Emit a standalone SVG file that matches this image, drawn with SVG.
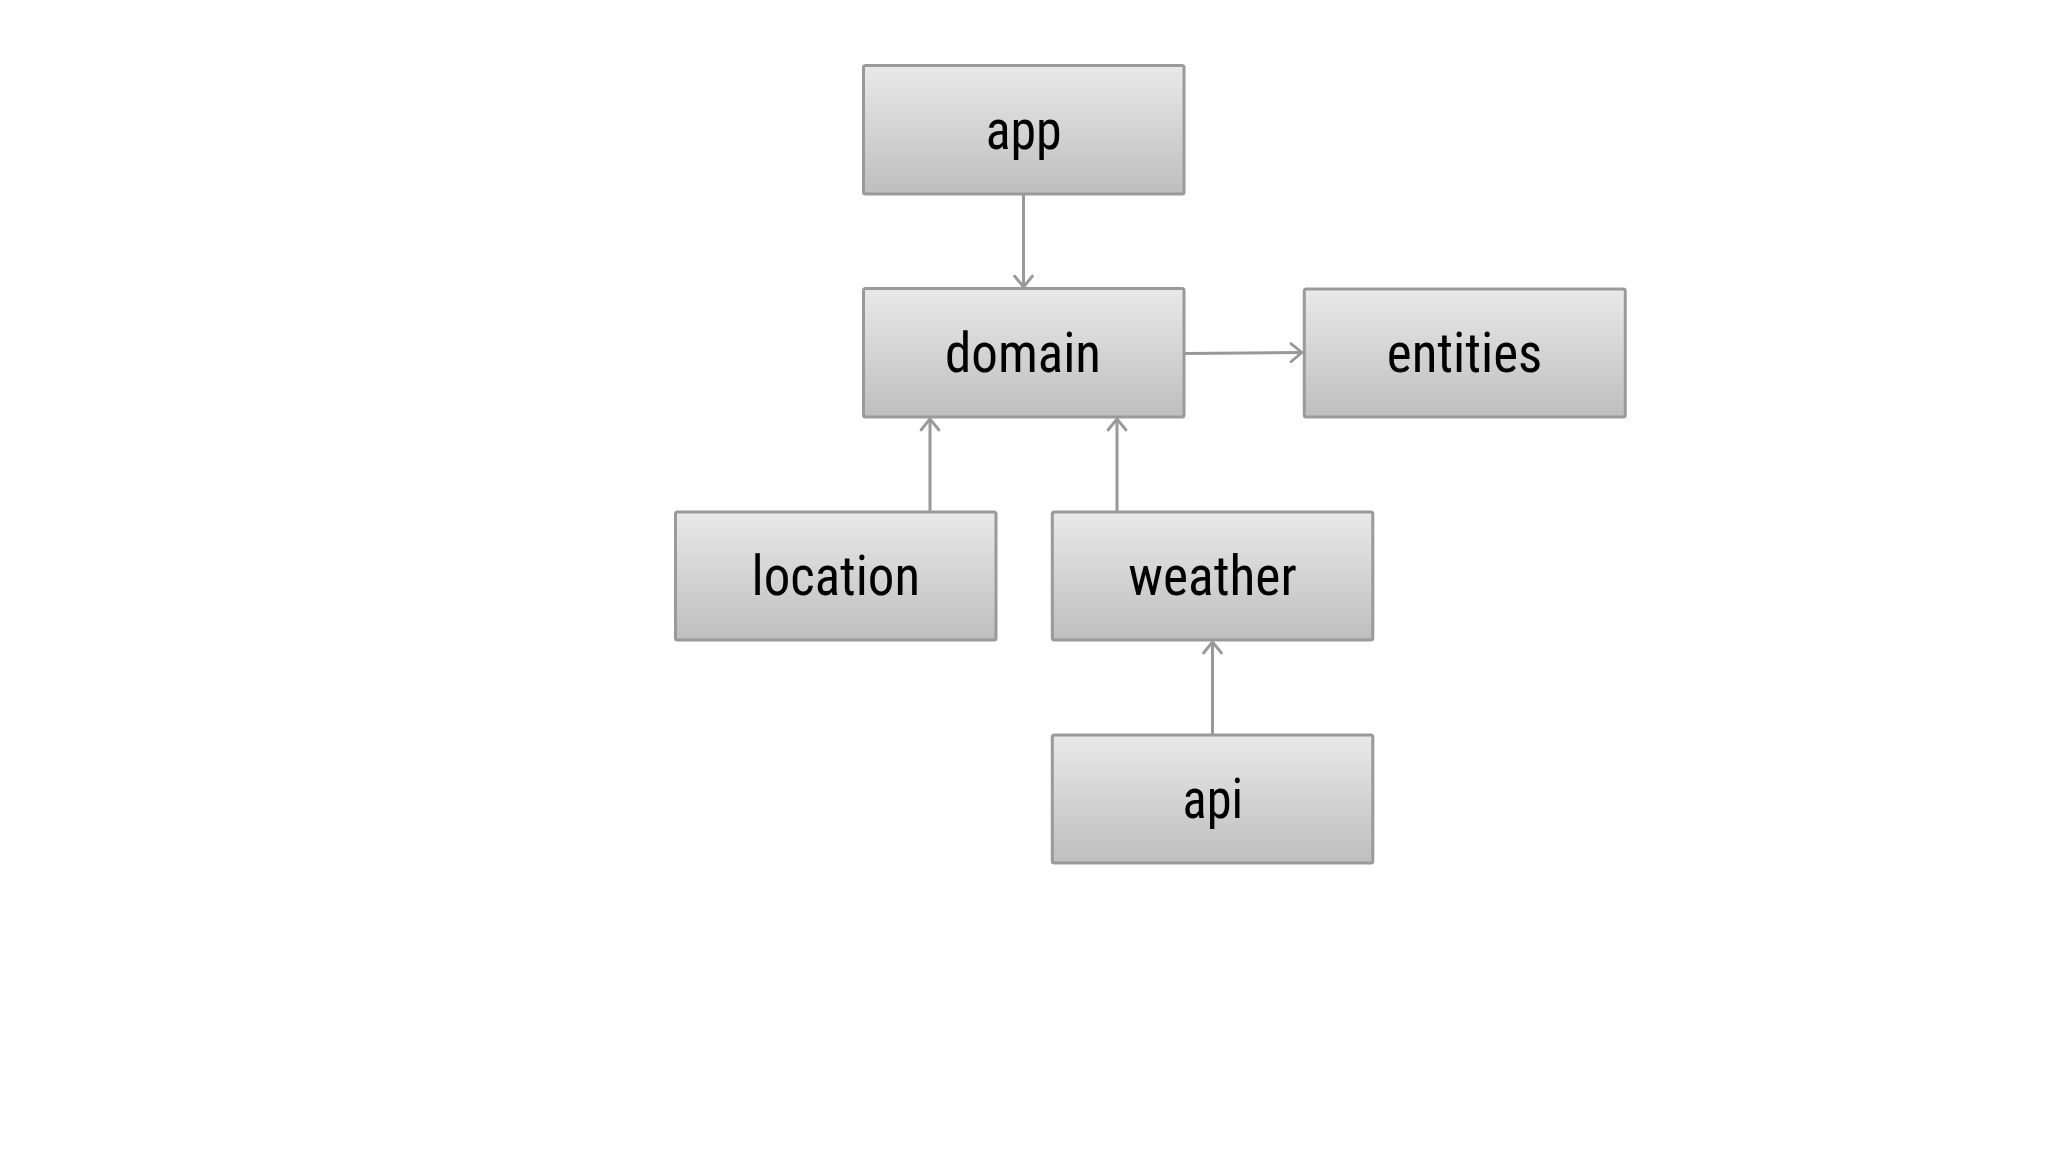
<svg xmlns="http://www.w3.org/2000/svg" width="2048" height="1152" viewBox="0 0 2048 1152">
  <defs>
    <linearGradient id="boxFill" x1="0" y1="0" x2="0" y2="1">
      <stop offset="0" stop-color="#e9e9e9"/>
      <stop offset="1" stop-color="#bebebe"/>
    </linearGradient>
    <marker id="arrow" markerUnits="userSpaceOnUse" markerWidth="14" markerHeight="20" viewBox="0 0 14 20" refX="12" refY="10" orient="auto" overflow="visible">
      <path d="M1,1 L12,10 L1,19" fill="none" stroke="#999999" stroke-width="2.8" stroke-linecap="round" stroke-linejoin="round"/>
    </marker>
  </defs>
  <style>
    .box { fill: url(#boxFill); stroke: #9a9a9a; stroke-width: 3; }
    .label { font-family: "Roboto Condensed", Roboto, "Liberation Sans", sans-serif; font-size: 55px; fill: #000000; text-anchor: middle; }
    .edge { fill: none; stroke: #999999; stroke-width: 3; marker-end: url(#arrow); }
  </style>
  <rect width="2048" height="1152" fill="#ffffff"/>

  <g id="connectors">
    <line class="edge" x1="1023.5" y1="195" x2="1023.5" y2="287"/>
    <line class="edge" x1="1185" y1="353.5" x2="1302" y2="352.5"/>
    <line class="edge" x1="930" y1="511" x2="930" y2="419"/>
    <line class="edge" x1="1117" y1="511" x2="1117" y2="419"/>
    <line class="edge" x1="1212.5" y1="734" x2="1212.5" y2="642"/>
  </g>

  <g id="node-app">
    <rect class="box" x="863.5" y="65.5" width="320.5" height="128.5" rx="2"/>
    <text class="label" x="1023.7" y="148.5" textLength="76" lengthAdjust="spacingAndGlyphs">app</text>
  </g>
  <g id="node-domain">
    <rect class="box" x="863.5" y="288.5" width="320.5" height="128.5" rx="2"/>
    <text class="label" x="1023" y="371.7" textLength="156" lengthAdjust="spacingAndGlyphs">domain</text>
  </g>
  <g id="node-entities">
    <rect class="box" x="1304.3" y="289" width="321" height="128" rx="2"/>
    <text class="label" x="1464.5" y="371.7" textLength="155.5" lengthAdjust="spacingAndGlyphs">entities</text>
  </g>
  <g id="node-location">
    <rect class="box" x="675.5" y="512" width="320.5" height="128" rx="2"/>
    <text class="label" x="835.8" y="595" textLength="168.5" lengthAdjust="spacingAndGlyphs">location</text>
  </g>
  <g id="node-weather">
    <rect class="box" x="1052.3" y="512" width="320.5" height="128" rx="2"/>
    <text class="label" x="1212.5" y="595" textLength="168.5" lengthAdjust="spacingAndGlyphs">weather</text>
  </g>
  <g id="node-api">
    <rect class="box" x="1052.3" y="735" width="320.5" height="128" rx="2"/>
    <text class="label" x="1212.8" y="818" textLength="60.5" lengthAdjust="spacingAndGlyphs">api</text>
  </g>
</svg>
